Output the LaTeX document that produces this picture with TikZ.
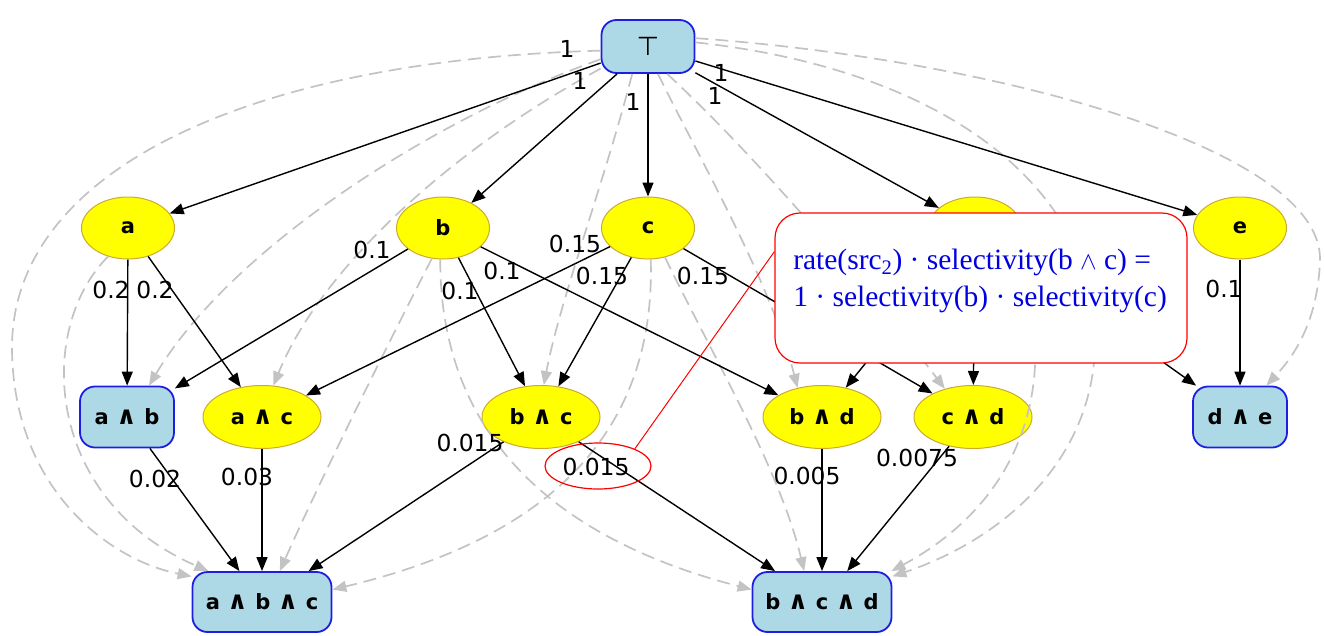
\documentclass[tikz,border=0pt]{standalone}
\usepackage{fontspec}
\setmainfont{Liberation Serif}
\newfontfamily\dvsans{DejaVu Sans}
\usetikzlibrary{arrows.meta,shapes.geometric}

\definecolor{boxfill}{RGB}{173,216,230}
\definecolor{boxline}{RGB}{30,30,225}
\definecolor{ellfill}{RGB}{255,255,0}
\definecolor{ellline}{RGB}{205,170,45}
\definecolor{dashgrey}{RGB}{195,195,195}
\definecolor{notered}{RGB}{255,0,0}
\definecolor{noteblue}{RGB}{0,0,225}

% conjunction sign with the wide spacing used in the node labels
\newcommand\andop{\hskip0.36em{\fontsize{25}{25}\selectfont∧}\hskip0.36em}

\begin{document}
\begin{tikzpicture}[x=1pt,y=-1pt,
  conjbox/.style={draw=boxline, line width=1.8pt, fill=boxfill, rounded corners=15pt,
    minimum width=94pt, minimum height=61pt, inner sep=0pt,
    font=\dvsans\bfseries\fontsize{21}{25}\selectfont},
  single/.style={ellipse, draw=ellline, line width=1pt, fill=ellfill,
    minimum width=93pt, minimum height=62pt, inner sep=0pt,
    font=\dvsans\bfseries\fontsize{21}{25}\selectfont},
  pair/.style={single, minimum width=118pt, minimum height=63pt},
  flow/.style={-{Triangle[length=14pt,width=11pt]}, line width=1.4pt, black},
  hint/.style={-{Triangle[length=14pt,width=11pt]}, line width=1.7pt, dashgrey,
    dash pattern=on 13pt off 7pt},
  wlabel/.style={font=\dvsans\fontsize{23.4}{26}\selectfont, inner sep=0pt},
]
\useasboundingbox (0,0) rectangle (1324,635);

% ---- nodes ----
\node[conjbox, minimum width=93pt, minimum height=53pt,
      font=\dvsans\fontsize{26}{30}\selectfont] (top) at (648,46.5) {⊤};
\node[single] (a) at (128,228) {a};
\node[single] (b) at (443,228) {b};
\node[single] (c) at (648,228) {c};
\node[single] (d) at (975,228) {d};
\node[single] (e) at (1240,228) {e};
\node[conjbox] (ab) at (127,417) {a\andop b};
\node[pair] (ac) at (262,417) {a\andop c};
\node[pair] (bc) at (541,417) {b\andop c};
\node[pair] (bd) at (822,417) {b\andop d};
\node[pair] (cd) at (973,417) {c\andop d};
\node[conjbox] (de) at (1240,417) {d\andop e};
\node[conjbox, minimum width=139pt, minimum height=60pt] (abc) at (262,602) {a\andop b\andop c};
\node[conjbox, minimum width=139pt, minimum height=60pt] (bcd) at (822,602) {b\andop c\andop d};

% ---- implied (dashed) edges ----
\draw[hint] (top.185) .. controls (250,60) and (10,170) .. (12,350)
            .. controls (14,490) and (110,560) .. (abc.160);
\draw[hint] (a.235) .. controls (35,330) and (45,500) .. (abc.150);
\draw[hint] (top.195) .. controls (430,120) and (230,250) .. (ab.55);
\draw[hint] (top.205) .. controls (450,150) and (320,270) .. (ac.70);
\draw[hint] (b.250) .. controls (395,330) and (320,480) .. (abc.60);
\draw[hint] (b.265) .. controls (440,440) and (560,540) .. (bcd.170);
\draw[hint] (c.275) .. controls (656,440) and (540,540) .. (abc.10);
\draw[hint] (c.300) .. controls (715,360) and (780,470) .. (bcd.120);
\draw[hint] (top.240) .. controls (605,180) and (560,300) .. (bc.85);
\draw[hint] (top.290) .. controls (700,160) and (770,280) .. (bd.130);
\draw[hint] (top.305) .. controls (760,160) and (870,290) .. (cd.135);
\draw[hint] (top.10) .. controls (1000,60) and (1322,150) .. (1320,260)
            .. controls (1318,320) and (1295,355) .. (de.50);
\draw[hint] (top.5) .. controls (950,70) and (1090,190) .. (1095,330)
            .. controls (1100,460) and (1000,540) .. (bcd.20);
\draw[hint] (d.330) .. controls (1050,320) and (1060,480) .. (bcd.24);

% ---- weighted edges ----
\draw[flow] (top) -- (a);
\draw[flow] (top) -- (b);
\draw[flow] (top) -- (c);
\draw[flow] (top) -- (d);
\draw[flow] (top) -- (e);
\draw[flow] (a) -- (ab);
\draw[flow] (a) -- (ac);
\draw[flow] (b) -- (ab);
\draw[flow] (b) -- (bc);
\draw[flow] (b) -- (bd);
\draw[flow] (c) -- (ac);
\draw[flow] (c) -- (bc);
\draw[flow] (c) -- (cd);
\draw[flow] (d) -- (bd);
\draw[flow] (d) -- (cd);
\draw[flow] (d) -- (de);
\draw[flow] (e) -- (de);
\draw[flow] (ab) -- (abc);
\draw[flow] (ac) -- (abc);
\draw[flow] (bc) -- (abc);
\draw[flow] (bc) -- (bcd);
\draw[flow] (bd) -- (bcd);
\draw[flow] (cd) -- (bcd);

% ---- edge weights ----
\node[wlabel] (w-ta) at (567,49) {1};
\node[wlabel] (w-tb) at (580,81) {1};
\node[wlabel] (w-tc) at (633,102) {1};
\node[wlabel] (w-td) at (715,96) {1};
\node[wlabel] (w-te) at (721,73) {1};
\node[wlabel] (w-aab) at (111,290) {0.2};
\node[wlabel] (w-aac) at (155,290) {0.2};
\node[wlabel] (w-bab) at (372,250) {0.1};
\node[wlabel] (w-bbc) at (460,291) {0.1};
\node[wlabel] (w-bbd) at (502,271) {0.1};
\node[wlabel] (w-cac) at (575,244) {0.15};
\node[wlabel] (w-cbc) at (602,276) {0.15};
\node[wlabel] (w-ccd) at (703,276) {0.15};
\node[wlabel] (w-ede) at (1224,289) {0.1};
\node[wlabel] (w-ababc) at (155,479) {0.02};
\node[wlabel] (w-acabc) at (247,477) {0.03};
\node[wlabel] (w-bcabc) at (470,443) {0.015};
\node[wlabel] (w-bcbcd) at (596,467) {0.015};
\node[wlabel] (w-bdbcd) at (807,476) {0.005};
\node[wlabel] (w-cdbcd) at (917,458) {0.0075};

% ---- annotation ----
\node[ellipse, draw=notered, line width=1.2pt, minimum width=106pt,
      minimum height=46pt, inner sep=0pt] (hl) at (598,466) {};
\node[draw=notered, fill=white, line width=1.2pt, rounded corners=25pt,
      minimum width=412pt, minimum height=150pt, inner sep=0pt] (note) at (981,288) {};
\node[text=noteblue, align=left, inner sep=0pt,
      font=\fontsize{29.5}{37}\selectfont] (notetext) at (980,281)
  {rate(src\textsubscript{2}) · selectivity(b $\wedge$ c) =\\
   1 · selectivity(b) · selectivity(c)};
\draw[notered, line width=1pt] (hl.25) -- (note.170);
\end{tikzpicture}
\end{document}
